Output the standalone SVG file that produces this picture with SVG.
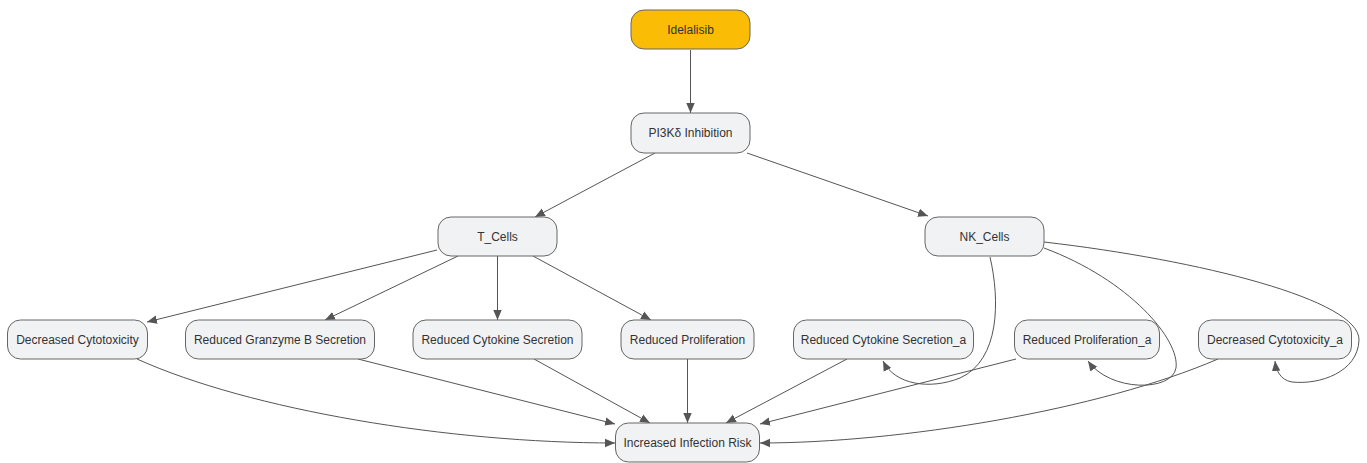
<svg xmlns="http://www.w3.org/2000/svg" width="1367" height="463" viewBox="0 0 1367 463">
<style>
.n rect{fill:#f1f2f4;stroke:#666;stroke-width:1}
.n.hi rect{fill:#fbbc05}
.n text{font-family:"Liberation Sans",Arial,sans-serif;font-size:12px;fill:#333;text-anchor:middle;dominant-baseline:central}
.e path{fill:none;stroke:#555;stroke-width:1;marker-end:url(#ah)}
</style>
<defs>
<marker id="ah" markerUnits="userSpaceOnUse" markerWidth="10" markerHeight="10" viewBox="0 0 10 10" refX="10" refY="5" orient="auto">
<path d="M0,0.8 L10,5 L0,9.2 Z" fill="#555"/>
</marker>
</defs>
<rect width="1367" height="463" fill="#fff"/>
<g class="e" id="connectors">
<path d="M690.5,50 L690.5,113"/>
<path d="M655,153 L535,217"/>
<path d="M747,153 L928,216"/>
<path d="M437,250 L147,322"/>
<path d="M458,256 L325,320"/>
<path d="M497.5,256 L497.5,320"/>
<path d="M533,256 L651,320"/>
<path d="M990,257 C1000,300 1000,360 960,378 C930,390 895,385 883,361"/>
<path d="M1044,248 C1130,280 1180,340 1176,368 C1172,392 1110,392 1088,361"/>
<path d="M1044,242 C1200,260 1360,300 1359,340 C1358,372 1320,385 1292,382 C1280,380 1276,370 1275,361"/>
<path d="M137,359 C250,410 450,443 615,443"/>
<path d="M358,359 L615,424"/>
<path d="M534,359 L650,423"/>
<path d="M687.5,359 L687.5,423"/>
<path d="M847,359 L726,423"/>
<path d="M1016,359 L760,424"/>
<path d="M1218,359 C1100,410 900,443 760,443"/>
</g>
<g class="n hi" id="idelalisib"><rect x="631" y="10" width="119" height="39" rx="13"/><text x="690.5" y="29.5">Idelalisib</text></g>
<g class="n" id="pi3k"><rect x="631" y="113" width="119" height="40" rx="13"/><text x="690.5" y="133">PI3Kδ Inhibition</text></g>
<g class="n" id="tcells"><rect x="438" y="217" width="119" height="39" rx="13"/><text x="497.5" y="236.5">T_Cells</text></g>
<g class="n" id="nkcells"><rect x="925" y="217" width="119" height="39" rx="13"/><text x="984.5" y="236.5">NK_Cells</text></g>
<g class="n" id="dc"><rect x="7.5" y="320" width="140" height="39" rx="13"/><text x="77.5" y="339.5">Decreased Cytotoxicity</text></g>
<g class="n" id="rgb"><rect x="185.5" y="320" width="189" height="39" rx="13"/><text x="280" y="339.5">Reduced Granzyme B Secretion</text></g>
<g class="n" id="rcs"><rect x="413" y="320" width="169" height="39" rx="13"/><text x="497.5" y="339.5">Reduced Cytokine Secretion</text></g>
<g class="n" id="rp"><rect x="621" y="320" width="133" height="39" rx="13"/><text x="687.5" y="339.5">Reduced Proliferation</text></g>
<g class="n" id="rcsa"><rect x="793.5" y="320" width="180" height="39" rx="13"/><text x="883.5" y="339.5">Reduced Cytokine Secretion_a</text></g>
<g class="n" id="rpa"><rect x="1014.5" y="320" width="145" height="39" rx="13"/><text x="1087" y="339.5">Reduced Proliferation_a</text></g>
<g class="n" id="dca"><rect x="1198.5" y="320" width="153" height="39" rx="13"/><text x="1275" y="339.5">Decreased Cytotoxicity_a</text></g>
<g class="n" id="iir"><rect x="615.5" y="423" width="144" height="39" rx="13"/><text x="687.5" y="442.5">Increased Infection Risk</text></g>
</svg>
